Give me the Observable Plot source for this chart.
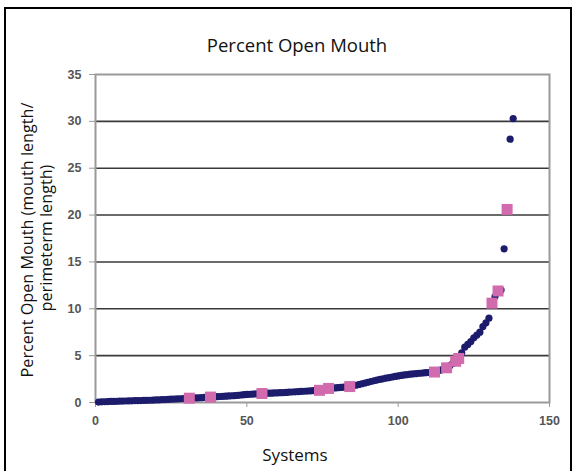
<!DOCTYPE html>
<html>
<head>
<meta charset="utf-8">
<script src="https://cdn.jsdelivr.net/npm/d3@7"></script>
<script src="https://cdn.jsdelivr.net/npm/@observablehq/plot@0.6"></script>
<style>
  html, body { margin: 0; padding: 0; background: #fff; }
  #wrap { position: relative; width: 576px; height: 471px; overflow: hidden; }
  #border { position: absolute; left: 4px; top: 7px; width: 568px; height: 480px; border: 2px solid #000; box-sizing: border-box; }
  #chart { position: absolute; left: 0; top: 0; }
</style>
</head>
<body>
<div id="wrap"><div id="border"></div><div id="chart"></div></div>
<script>
// Values (sorted percent open mouth per system)
const systemValues = [
  0.05, 0.07, 0.08, 0.10, 0.11, 0.12, 0.13, 0.14, 0.15, 0.16,
  0.17, 0.18, 0.19, 0.20, 0.21, 0.22, 0.23, 0.24, 0.25, 0.27,
  0.28, 0.30, 0.31, 0.33, 0.35, 0.37, 0.38, 0.40, 0.42, 0.44,
  0.46, 0.47, 0.49, 0.50, 0.52, 0.54, 0.56, 0.58, 0.60, 0.62,
  0.64, 0.66, 0.68, 0.70, 0.72, 0.74, 0.77, 0.80, 0.83, 0.86,
  0.88, 0.90, 0.92, 0.94, 0.96, 0.97, 0.99, 1.00, 1.02, 1.03,
  1.05, 1.06, 1.08, 1.10, 1.12, 1.14, 1.16, 1.18, 1.20, 1.22,
  1.24, 1.26, 1.28, 1.30, 1.35, 1.42, 1.50, 1.52, 1.55, 1.58,
  1.61, 1.64, 1.67, 1.70, 1.77, 1.84, 1.92, 2.00, 2.08, 2.16,
  2.24, 2.32, 2.39, 2.46, 2.53, 2.60, 2.66, 2.72, 2.78, 2.84,
  2.89, 2.94, 2.98, 3.02, 3.06, 3.09, 3.12, 3.15, 3.18, 3.20,
  3.22, 3.25, 3.35, 3.45, 3.58, 3.70, 3.90, 4.15, 4.40, 4.70,
  5.30, 5.90, 6.20, 6.50, 6.90, 7.20, 7.50, 8.10, 8.50, 9.00,
  10.6, 11.3, 11.9, 12.0, 16.4, 20.6, 28.1, 30.3
];
// Systems drawn as pink squares (1-based system numbers)
const pinkSystems = [31, 38, 55, 74, 77, 84, 112, 116, 119, 120, 131, 133, 136];
const xTicks = [0, 50, 100, 150];
const yTicks = [0, 5, 10, 15, 20, 25, 30, 35];
const gridValues = [5, 10, 15, 20, 25, 30];
const titleText = "Percent Open Mouth";
const xLabel = "Systems";
const yLabelLines = ["Percent Open Mouth (mouth length/", "perimeterm length)"];

const rows = systemValues.map((v, i) => ({system: i + 1, value: v, pink: pinkSystems.includes(i + 1)}));
const navyRows = rows.filter(d => !d.pink);
const pinkRows = rows.filter(d => d.pink);

const W = 576, H = 471;
const plot = Plot.plot({
  width: W,
  height: H,
  marginLeft: 95,
  marginRight: 27,
  marginTop: 74,
  marginBottom: 69,
  style: {fontFamily: "'Liberation Sans', Arial, sans-serif", fontSize: "12.5px", background: "transparent", overflow: "visible"},
  x: {domain: [0, 150], ticks: xTicks, label: null},
  y: {domain: [0, 35], ticks: yTicks, label: null},
  marks: [
    Plot.ruleY(gridValues, {stroke: "#3a3a3a", strokeWidth: 1.6}),
    Plot.frame({stroke: "#9a9a9a", strokeWidth: 2}),
    Plot.axisX({ticks: xTicks, tickSize: 5, tickPadding: 9, stroke: "#9a9a9a", fill: "#555", label: null, fontWeight: "bold"}),
    Plot.axisY({ticks: yTicks, tickSize: 6, tickPadding: 8, stroke: "#9a9a9a", fill: "#555", label: null, fontWeight: "bold"}),
    Plot.dot(navyRows, {x: "system", y: "value", r: 3.6, fill: "#1d1c6c", stroke: "none"}),
    Plot.dot(pinkRows, {x: "system", y: "value", symbol: "square", r: 6.2, fill: "#d16bad", stroke: "none"})
  ]
});

const svg = d3.select(plot);
svg.append("text")
  .attr("x", 297).attr("y", 52)
  .attr("text-anchor", "middle")
  .style("font-family", "'Open Sans', sans-serif").style("font-size", "18.5px").style("fill", "#111")
  .text(titleText);
svg.append("text")
  .attr("x", 295).attr("y", 461)
  .attr("text-anchor", "middle")
  .style("font-family", "'Open Sans', sans-serif").style("font-size", "17px").style("fill", "#111")
  .text(xLabel);
const ylab = [[33, 240], [52, 238]];
yLabelLines.forEach((t, i) => {
  svg.append("text")
    .attr("transform", `translate(${ylab[i][0]},${ylab[i][1]}) rotate(-90)`)
    .attr("text-anchor", "middle")
    .style("font-family", "'Open Sans', sans-serif").style("font-size", "16.2px").style("fill", "#111")
    .text(t);
});

document.getElementById("chart").appendChild(plot);
</script>
</body>
</html>
